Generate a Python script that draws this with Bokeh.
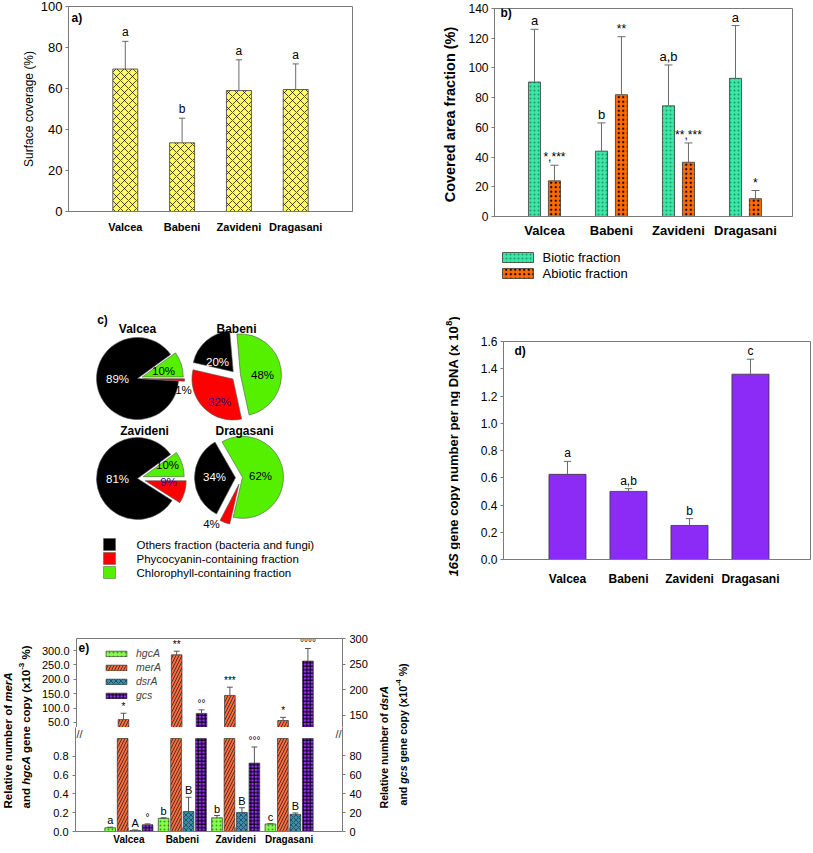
import math
from math import pi
from bokeh.plotting import figure
from bokeh.models import Range1d, LinearAxis, FixedTicker, Label, Legend, LegendItem, NumeralTickFormatter
from bokeh.layouts import row, column
from bokeh.embed import file_html
from bokeh.resources import INLINE
from bokeh.core.properties import value

FONT = "Liberation Sans"
GRAY = "#7a7a7a"
ERRC = "#6a6a6a"
KW = dict(output_backend="svg", toolbar_location=None, frame_align=False)

# ---------------- data ----------------
sites = ["Valcea", "Babeni", "Zavideni", "Dragasani"]

# (a) surface coverage (%)
cover_mean = [69.5, 33.5, 59.0, 59.5]
cover_sd = [13.5, 12.0, 15.0, 12.5]
cover_letters = ["a", "b", "a", "a"]

# (b) covered area fraction (%)
biotic_mean = [90.5, 44.0, 74.5, 93.0]
biotic_sd = [35.5, 19.0, 27.5, 35.5]
biotic_letters = ["a", "b", "a,b", "a"]
abiotic_mean = [24.0, 82.0, 36.5, 12.0]
abiotic_sd = [10.5, 39.0, 13.0, 5.5]
abiotic_marks = ["*,***", "**", "**,***", "*"]
b_legend = ["Biotic fraction", "Abiotic fraction"]

# (c) pie fractions (%)
others_pct = [89, 20, 81, 34]
phyco_pct = [1, 32, 9, 4]
chloro_pct = [10, 48, 10, 62]
pie_legend = ["Others fraction (bacteria and fungi)",
              "Phycocyanin-containing fraction",
              "Chlorophyll-containing fraction"]

# (d) 16S gene copy number per ng DNA (x10^8)
s16_mean = [0.625, 0.50, 0.25, 1.36]
s16_sd = [0.095, 0.02, 0.05, 0.11]
s16_letters = ["a", "a,b", "b", "c"]

# (e) relative gene copies
hgcA_mean = [0.04, 0.14, 0.145, 0.08]      # x10^-3 %
hgcA_sd = [0.006, 0.006, 0.025, 0.003]
hgcA_letters = ["a", "b", "b", "c"]
merA_mean = [60.0, 285.0, 144.0, 57.0]     # x10^-3 %
merA_sd = [22.0, 12.6, 28.6, 11.0]
merA_marks = ["*", "**", "***", "*"]
dsrA_mean = [1.0, 21.0, 20.0, 18.0]        # x10^-4 %
dsrA_sd = [0.6, 15.0, 5.0, 1.5]
dsrA_letters = ["A", "B", "B", "B"]
gcs_mean = [7.0, 154.0, 72.0, 256.0]       # x10^-4 %
gcs_sd = [1.0, 7.0, 17.0, 24.5]
gcs_marks = ["\u00b0", "\u00b0\u00b0", "\u00b0\u00b0\u00b0", "\u00b0\u00b0\u00b0\u00b0"]
e_legend = ["hgcA", "merA", "dsrA", "gcs"]

X = [1, 2, 3, 4]

# ---------------- helpers ----------------
REG = {' ': 278, '%': 889, '(': 333, ')': 333, '*': 389, ',': 278, '-': 333, '.': 278,
       'A': 667, 'B': 667, 'C': 722, 'D': 722, 'N': 722, 'R': 722, 'S': 667,
       'a': 556, 'b': 556, 'c': 500, 'd': 556, 'e': 556, 'f': 278, 'g': 556, 'h': 556,
       'i': 222, 'l': 222, 'm': 833, 'n': 556, 'o': 556, 'p': 556, 'r': 333, 's': 500,
       't': 278, 'u': 556, 'v': 500, 'x': 500, 'y': 500}
BOLD = {' ': 278, '%': 889, '(': 333, ')': 333, ',': 278, '-': 333, '.': 278,
        'A': 722, 'B': 722, 'C': 722, 'D': 722, 'N': 722, 'R': 722, 'S': 667,
        'a': 556, 'b': 611, 'c': 556, 'd': 611, 'e': 556, 'f': 333, 'g': 611, 'h': 611,
        'i': 278, 'l': 278, 'm': 889, 'n': 611, 'o': 611, 'p': 611, 'r': 389, 's': 556,
        't': 333, 'u': 611, 'v': 556, 'x': 556, 'y': 556}


def text_w(s, bold, size):
    tbl = BOLD if bold else REG
    return sum(tbl.get(ch, 556) for ch in s) / 1000.0 * size


def vlabel(p, x, y, pieces, size, anchor="center"):
    """Vertical (bottom-to-top) label of styled pieces (text, style, superscript), data units = px."""
    widths = []
    for t, st, sup in pieces:
        fs = size * 0.7 if sup else size
        widths.append(text_w(t, "bold" in st, fs))
    total = sum(widths)
    y0 = y - total / 2.0 if anchor == "center" else y
    for (t, st, sup), w in zip(pieces, widths):
        fs = size * 0.7 if sup else size
        lead = len(t) - len(t.lstrip(" "))
        lead_w = text_w(" " * lead, "bold" in st, fs)
        dx = -size * 0.38 if sup else 0.0
        p.add_layout(Label(x=x + dx, y=y0 + lead_w, text=t.strip(" "), angle=pi / 2,
                           text_align="left", text_baseline="middle", text_font=FONT,
                           text_font_size=f"{fs:.1f}px", text_font_style=st,
                           text_color="black"))
        y0 += w


def corner(p, x, y, t):
    p.add_layout(Label(x=x, y=y, x_units="screen", y_units="screen", text=t,
                       text_font=FONT, text_font_style="bold", text_font_size="12px",
                       text_align="left", text_baseline="middle", text_color="black"))


def blank(width, height):
    q = figure(width=width, height=height, x_range=Range1d(0, width), y_range=Range1d(0, height),
               x_axis_location=None, y_axis_location=None, min_border=0, **KW)
    q.grid.visible = False
    q.outline_line_color = None
    q.background_fill_color = "white"
    q.border_fill_color = "white"
    return q


def setup(p):
    p.xgrid.visible = False
    p.ygrid.visible = False
    p.outline_line_color = GRAY
    p.background_fill_color = "white"
    p.border_fill_color = "white"


def style_x(ax, size, standoff, tick_in=0):
    ax.ticker = FixedTicker(ticks=X)
    ax.major_label_overrides = {x: s for x, s in zip(X, sites)}
    ax.major_tick_out = 0
    if tick_in:
        ax.major_tick_in = tick_in
        ax.major_tick_line_color = GRAY
    else:
        ax.major_tick_in = 0
        ax.major_tick_line_color = None
    ax.minor_tick_line_color = None
    ax.axis_line_color = GRAY
    ax.major_label_text_font = FONT
    ax.major_label_text_font_style = "bold"
    ax.major_label_text_font_size = f"{size}px"
    ax.major_label_standoff = standoff
    ax.major_label_text_color = "black"


def style_y(ax, ticks, size, fmt=None, standoff=3):
    ax.ticker = FixedTicker(ticks=ticks)
    ax.minor_tick_line_color = None
    ax.major_tick_in = 0
    ax.major_tick_out = 3
    ax.major_tick_line_color = GRAY
    ax.axis_line_color = GRAY
    ax.major_label_text_font = FONT
    ax.major_label_text_font_size = f"{size}px"
    ax.major_label_standoff = standoff
    ax.major_label_text_color = "black"
    if fmt:
        ax.formatter = NumeralTickFormatter(format=fmt)


def axis_title(ax, text, style, size, standoff):
    ax.axis_label = text
    ax.axis_label_text_font = FONT
    ax.axis_label_text_font_style = style
    ax.axis_label_text_font_size = f"{size}px"
    ax.axis_label_text_color = "black"
    ax.axis_label_standoff = standoff


def errbars(p, xs, mean, sd, half, rn="default", color=ERRC):
    tops = [m + s for m, s in zip(mean, sd)]
    p.segment(x0=xs, x1=xs, y0=mean, y1=tops, line_color=color, line_width=1, y_range_name=rn)
    p.segment(x0=[x - half for x in xs], x1=[x + half for x in xs], y0=tops, y1=tops,
              line_color=color, line_width=1, y_range_name=rn)
    return tops


def bar_text(p, xs, ys, texts, size, yoff=-1, rn="default", lo=None, hi=None):
    keep = [i for i, y in enumerate(ys) if (lo is None or lo <= y) and (hi is None or y <= hi)]
    if not keep:
        return
    p.text(x=[xs[i] for i in keep], y=[ys[i] for i in keep], text=[texts[i] for i in keep],
           text_align="center", text_baseline="bottom", y_offset=yoff,
           text_font=value(FONT), text_font_size=f"{size}px", text_color="black",
           y_range_name=rn)


# ---------------- (a) ----------------
fa = figure(width=400, height=290, x_range=Range1d(0, 5), y_range=Range1d(0, 100),
            min_border_left=68, min_border_right=48, min_border_top=6, min_border_bottom=79, **KW)
setup(fa)
style_x(fa.xaxis[0], 11, 9)
style_y(fa.yaxis[0], [0, 20, 40, 60, 80, 100], 13)
axis_title(fa.yaxis[0], "Surface coverage (%)", "normal", 12, 2)
fa.vbar(x=X, top=cover_mean, width=0.44, fill_color="#FFFF5E", line_color="#3a3a3a",
        line_width=0.8, hatch_pattern="x", hatch_color="black", hatch_scale=8, hatch_weight=0.7)
tops = errbars(fa, X, cover_mean, cover_sd, 0.055)
bar_text(fa, X, tops, cover_letters, 12, -2)
corner(fa, 3, 194, "a)")

# ---------------- (b) ----------------
fb = figure(width=413, height=240, x_range=Range1d(0.254, 4.702), y_range=Range1d(0, 140),
            min_border_left=94, min_border_right=21, min_border_top=8, min_border_bottom=19, **KW)
setup(fb)
style_x(fb.xaxis[0], 13, 6)
style_y(fb.yaxis[0], [0, 20, 40, 60, 80, 100, 120, 140], 12)
axis_title(fb.yaxis[0], "Covered area fraction  (%)", "bold", 14.5, 7)
xb1 = [x - 0.149 for x in X]
xb2 = [x + 0.149 for x in X]
B_STYLE = [dict(fill_color="#3DE6A6", hatch_pattern=".", hatch_color="#1C9A68", hatch_scale=4, hatch_weight=0.5),
           dict(fill_color="#FF6A00", hatch_pattern=".", hatch_color="black", hatch_scale=4.5, hatch_weight=1.0)]
fb.vbar(x=xb1, top=biotic_mean, width=0.18, line_color="#3a3a3a", line_width=0.8, **B_STYLE[0])
fb.vbar(x=xb2, top=abiotic_mean, width=0.18, line_color="#3a3a3a", line_width=0.8, **B_STYLE[1])
t1 = errbars(fb, xb1, biotic_mean, biotic_sd, 0.06)
t2 = errbars(fb, xb2, abiotic_mean, abiotic_sd, 0.06)
bar_text(fb, xb1, t1, biotic_letters, 13, -1)
bar_text(fb, xb2, t2, abiotic_marks, 12, -1)
corner(fb, 6, 204, "b)")

# legend of (b): its own strip below the chart (abs y 240..290, x 400..813)
fbL = blank(413, 50)
for k, (lab, yy) in enumerate(zip(b_legend, [290 - 257, 290 - 273])):
    fbL.rect(x=[117.5], y=[yy], width=31, height=10, line_color="#3a3a3a", line_width=0.8, **B_STYLE[k])
    fbL.text(x=[142], y=[yy], text=[lab], text_align="left", text_baseline="middle",
             text_font=value(FONT), text_font_size="13px", text_color="black")

# ---------------- (c) ----------------
fc = blank(400, 300)
C_TOP = 590  # data y = C_TOP - abs_y
pie_cx = [137, 236, 137, 241]
pie_cy = [378, 375, 478, 477]
pie_r = 41
pie_start = [36.0, 95.0, 36.0, 120.0]
pie_explode = [[0, 6, 5], [5, 5, 4], [0, 8, 6], [6, 7, 1]]
slice_colors = ["black", "#FF0000", "#55F000"]
label_pos = [[(117, 378), (183, 389), (163, 370)],
             [(217, 361), (219, 401), (262, 374)],
             [(117, 478), (168, 481), (167, 464)],
             [(214, 476), (211, 523), (260, 475)]]
phyco_label_color = ["black", "#2A0096", "#2A0096", "black"]
title_pos = [(137, 328), (236, 328), (144, 430), (244, 430)]

wx, wy, wa0, wa1, wcol = [], [], [], [], []
lx, ly, lt, lc = [], [], [], []
for i in range(4):
    fr = [others_pct[i], phyco_pct[i], chloro_pct[i]]
    tot = float(sum(fr))
    a0 = pie_start[i]
    for k in range(3):
        a1 = a0 + fr[k] / tot * 360.0
        mid = math.radians((a0 + a1) / 2.0)
        e = pie_explode[i][k]
        wx.append(pie_cx[i] + e * math.cos(mid))
        wy.append(C_TOP - pie_cy[i] + e * math.sin(mid))
        wa0.append(math.radians(a0))
        wa1.append(math.radians(a1))
        wcol.append(slice_colors[k])
        a0 = a1
        px, py = label_pos[i][k]
        lx.append(px)
        ly.append(C_TOP - py)
        lt.append(f"{fr[k]}%")
        lc.append(["white", phyco_label_color[i], "black"][k])
fc.wedge(x=wx, y=wy, radius=pie_r, start_angle=wa0, end_angle=wa1, fill_color=wcol,
         line_color="#555555", line_width=0.6)
fc.text(x=lx, y=ly, text=lt, text_color=lc, text_align="center", text_baseline="middle",
        text_font=value(FONT), text_font_size="11.5px")
fc.text(x=[t[0] for t in title_pos], y=[C_TOP - t[1] for t in title_pos], text=sites,
        text_align="center", text_baseline="middle", text_font=value(FONT),
        text_font_size="12px", text_font_style="bold", text_color="black")
fc.text(x=[102], y=[C_TOP - 319], text=["c)"], text_align="center", text_baseline="middle",
        text_font=value(FONT), text_font_size="12px", text_font_style="bold", text_color="black")
leg_y = [C_TOP - 544, C_TOP - 558, C_TOP - 572]
fc.rect(x=[109, 109, 109], y=leg_y, width=12, height=12, fill_color=slice_colors,
        line_color="#555555", line_width=0.5)
fc.text(x=[136, 136, 136], y=leg_y, text=pie_legend, text_align="left", text_baseline="middle",
        text_font=value(FONT), text_font_size="11.5px", text_color="black")

# ---------------- (d) ----------------
dL = blank(60, 300)   # abs x 400..460, abs y 290..590
vlabel(dL, 53, 590 - 446, [("16S", "bold italic", False),
                           (" gene copy number per ng DNA (x 10", "bold", False),
                           ("8", "bold", True), (")", "bold", False)], 13)
fd = figure(width=353, height=300, x_range=Range1d(-0.049, 4.984), y_range=Range1d(0, 1.6),
            min_border_left=43, min_border_right=3, min_border_top=51, min_border_bottom=31, **KW)
setup(fd)
style_x(fd.xaxis[0], 12, 12)
style_y(fd.yaxis[0], [0, 0.2, 0.4, 0.6, 0.8, 1.0, 1.2, 1.4, 1.6], 12, fmt="0.0")
fd.vbar(x=X, top=s16_mean, width=0.607, fill_color="#8C2BF5", line_color="#333333", line_width=0.8)
td = errbars(fd, X, s16_mean, s16_sd, 0.06)
bar_text(fd, X, td, s16_letters, 12, -1)
corner(fd, 11, 209, "d)")

# ---------------- (e) broken-axis chart ----------------
EX = [[x - 0.35 for x in X], [x - 0.117 for x in X], [x + 0.117 for x in X], [x + 0.35 for x in X]]
EW = 0.2
E_STYLE = [
    dict(fill_color="#86FF4A", hatch_pattern=".", hatch_color="#3E9A1E", hatch_scale=4, hatch_weight=0.5),
    dict(fill_color="#FF6A3A", hatch_pattern="/", hatch_color="#222222", hatch_scale=6, hatch_weight=0.8),
    dict(fill_color="#3C8EA6", hatch_pattern="x", hatch_color="#1B3550", hatch_scale=5, hatch_weight=0.7),
    dict(fill_color="#9B30FF", hatch_pattern="+", hatch_color="black", hatch_scale=3.5, hatch_weight=1.0),
]
E_SERIES = [(hgcA_mean, hgcA_sd, hgcA_letters, "default", 11),
            (merA_mean, merA_sd, merA_marks, "default", 10),
            (dsrA_mean, dsrA_sd, dsrA_letters, "right", 11),
            (gcs_mean, gcs_sd, gcs_marks, "right", 10)]

# upper segment ranges (left, right), lower segment ranges and break points
UP_L, UP_R = (32.6, 341.7), (126.6, 300.0)
LO_L, LO_R = (0.0, 1.105), (0.0, 109.5)
CUT_L, CUT_R = 0.988, 97.9


def draw_e(p, lower):
    rends = []
    for k, (m, s, lab, rn, fs) in enumerate(E_SERIES):
        if lower:
            cut = CUT_L if rn == "default" else CUT_R
            top = [min(v, cut) for v in m]
            lo, hi = 0.0, cut
        else:
            top = m
            lo, hi = (UP_L if rn == "default" else UP_R)
        r = p.vbar(x=EX[k], top=top, bottom=0, width=EW, line_color="#333333", line_width=0.7,
                   y_range_name=rn, **E_STYLE[k])
        rends.append(r)
        tp = errbars(p, EX[k], m, s, 0.055, rn=rn, color="#555555")
        bar_text(p, EX[k], tp, lab, fs, -1, rn=rn, lo=lo, hi=hi - 0.04 * (hi - lo))
    return rends


et = figure(width=332, height=137, x_range=Range1d(0, 5), y_range=Range1d(*UP_L),
            x_axis_location="above", min_border_left=37, min_border_right=28,
            min_border_top=48, min_border_bottom=0, **KW)
et.extra_y_ranges = {"right": Range1d(*UP_R)}
et.xgrid.visible = False
et.ygrid.visible = False
et.outline_line_color = None
ax_top = et.xaxis[0]
ax_top.ticker = FixedTicker(ticks=[])
ax_top.axis_line_color = GRAY
ax_top.major_tick_line_color = None
ax_top.minor_tick_line_color = None
style_y(et.yaxis[0], [50, 100, 150, 200, 250, 300], 11, fmt="0.0", standoff=4)
rax = LinearAxis(y_range_name="right")
et.add_layout(rax, "right")
style_y(rax, [150, 200, 250, 300], 11, standoff=4)
rends = draw_e(et, False)
leg_e = Legend(items=[LegendItem(label=n, renderers=[r]) for n, r in zip(e_legend, rends)],
               location=(27, 26), padding=0, margin=0, spacing=2, label_height=12,
               glyph_height=7, glyph_width=26, label_standoff=7,
               label_text_font=FONT, label_text_font_size="10.5px",
               label_text_font_style="italic",
               border_line_alpha=0, background_fill_alpha=0)
et.add_layout(leg_e)
corner(et, 2, 80, "e)")

eb = figure(width=332, height=126, x_range=Range1d(0, 5), y_range=Range1d(*LO_L),
            min_border_left=37, min_border_right=28, min_border_top=0, min_border_bottom=22, **KW)
eb.extra_y_ranges = {"right": Range1d(*LO_R)}
eb.xgrid.visible = False
eb.ygrid.visible = False
eb.outline_line_color = None
style_x(eb.xaxis[0], 10, 2, tick_in=4)
style_y(eb.yaxis[0], [0, 0.2, 0.4, 0.6, 0.8], 11, fmt="0.0", standoff=4)
rax2 = LinearAxis(y_range_name="right")
eb.add_layout(rax2, "right")
style_y(rax2, [0, 20, 40, 60, 80], 11, standoff=4)
draw_e(eb, True)
brk_y = 1.031
eb.text(x=[0.075, 4.925], y=[brk_y, brk_y], text=["//", "//"], text_align="center",
        text_baseline="middle", text_font=value(FONT), text_font_size="11px", text_color="#333333")

E_BOT = 853  # data y = E_BOT - abs_y in side label panels
eL = blank(38, 263)
eR = blank(443, 263)
vlabel(eL, 7, E_BOT - 808, [("Relative number of ", "bold", False), ("merA", "bold italic", False)],
       11.5, anchor="start")
vlabel(eL, 25, E_BOT - 808, [("and ", "bold", False), ("hgcA", "bold italic", False),
                             (" gene copy (x10", "bold", False), ("-3", "bold", True),
                             (" %)", "bold", False)], 11.5, anchor="start")
vlabel(eR, 13, E_BOT - 808, [("Relative number of ", "bold", False), ("dsrA", "bold italic", False)],
       10.6, anchor="start")
vlabel(eR, 32, E_BOT - 805, [("and ", "bold", False), ("gcs", "bold italic", False),
                             (" gene copy (x10", "bold", False), ("-4", "bold", True),
                             (" %)", "bold", False)], 10.6, anchor="start")

layout = column(row(fa, column(fb, fbL)), row(fc, dL, fd), row(eL, column(et, eb), eR))
open("out.html", "w").write(file_html(layout, INLINE))
